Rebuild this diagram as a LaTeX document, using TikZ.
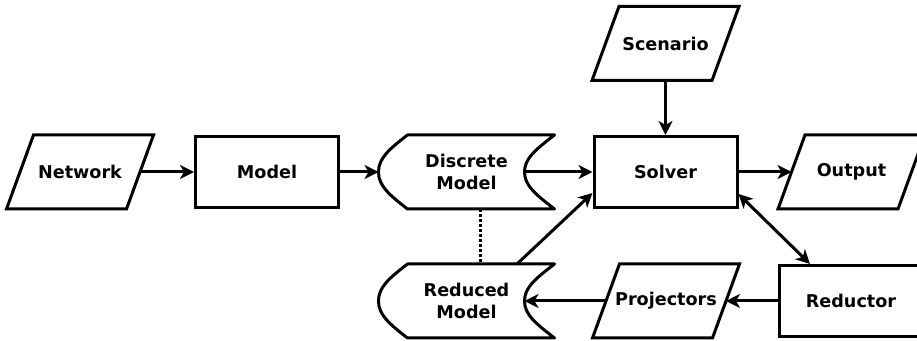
\documentclass[tikz,border=0pt]{standalone}
\usepackage{fontspec}
\setmainfont{DejaVu Sans}
\usepackage{tikz}
\usetikzlibrary{arrows.meta}
\newcommand{\iooutline}[1]{%
   \draw[line join=miter]
     ([xshift=6.75pt]#1.north west) -- ([xshift=6.75pt]#1.north east)
     -- ([xshift=-6.75pt]#1.south east) -- ([xshift=-6.75pt]#1.south west) -- cycle;}
\newcommand{\storedoutline}[1]{%
   \draw[line join=round]
     ([xshift=14.5pt]#1.north west) -- (#1.north east)
     .. controls +(-9pt,-7pt) and +(0pt,7pt) .. ([xshift=-15pt]#1.east)
     .. controls +(0pt,-7pt) and +(-9pt,7pt) .. (#1.south east)
     -- ([xshift=14.5pt]#1.south west)
     .. controls +(-9pt,7pt) and +(0pt,-7pt) .. (#1.west)
     .. controls +(0pt,7pt) and +(-9pt,-7pt) .. ([xshift=14.5pt]#1.north west) -- cycle;}

\begin{document}
\begin{tikzpicture}[x=0.5pt,y=-0.5pt,line width=1.5pt,>={Stealth[length=7pt,width=7pt,inset=2pt]},
    every node/.style={font=\bfseries\fontsize{8.8}{11}\selectfont,align=center,minimum height=35.5pt,inner sep=0pt},
    procbox/.style={draw,rectangle,minimum width=71.5pt},
    iobox/.style={rectangle,minimum width=58.5pt},
    storebox/.style={rectangle,minimum width=86.5pt}]
   \useasboundingbox (0,0) rectangle (917,341);
   \node[iobox] (network) at (80,172) {Network};
   \node[procbox] (model) at (267,172) {Model};
   \node[storebox] (discrete) at (466.5,172) {Discrete\\Model};
   \node[procbox] (solver) at (665.5,172) {Solver};
   \node[iobox] (output) at (851.5,172) {Output};
   \node[iobox] (scenario) at (665.5,43.5) {Scenario};
   \node[storebox] (reduced) at (466.5,301) {Reduced\\Model};
   \node[iobox] (projectors) at (666,301) {Projectors};
   \node[procbox] (reductor) at (851,301) {Reductor};
   \iooutline{network}
   \iooutline{output}
   \iooutline{scenario}
   \iooutline{projectors}
   \storedoutline{discrete}
   \storedoutline{reduced}
   \draw[->] (network) -- (model);
   \draw[->] (model.east) -- (discrete.west);
   \draw[->] ([xshift=-15pt]discrete.east) -- (solver.west);
   \draw[->] (scenario) -- (solver);
   \draw[->] (solver) -- (output);
   \draw[->] ([xshift=25.25pt]reduced.north) -- ([yshift=-10.5pt]solver.west);
   \draw[<->] ([yshift=-11pt]solver.east) -- ([xshift=-20.5pt]reductor.north);
   \draw[->] (reductor) -- (projectors);
   \draw[->] (projectors) -- ([xshift=-15pt]reduced.east);
   \draw[dash pattern=on 1.4pt off 1.1pt] ([xshift=6.75pt]discrete.south) -- ([xshift=6.75pt]reduced.north);
\end{tikzpicture}
\end{document}
